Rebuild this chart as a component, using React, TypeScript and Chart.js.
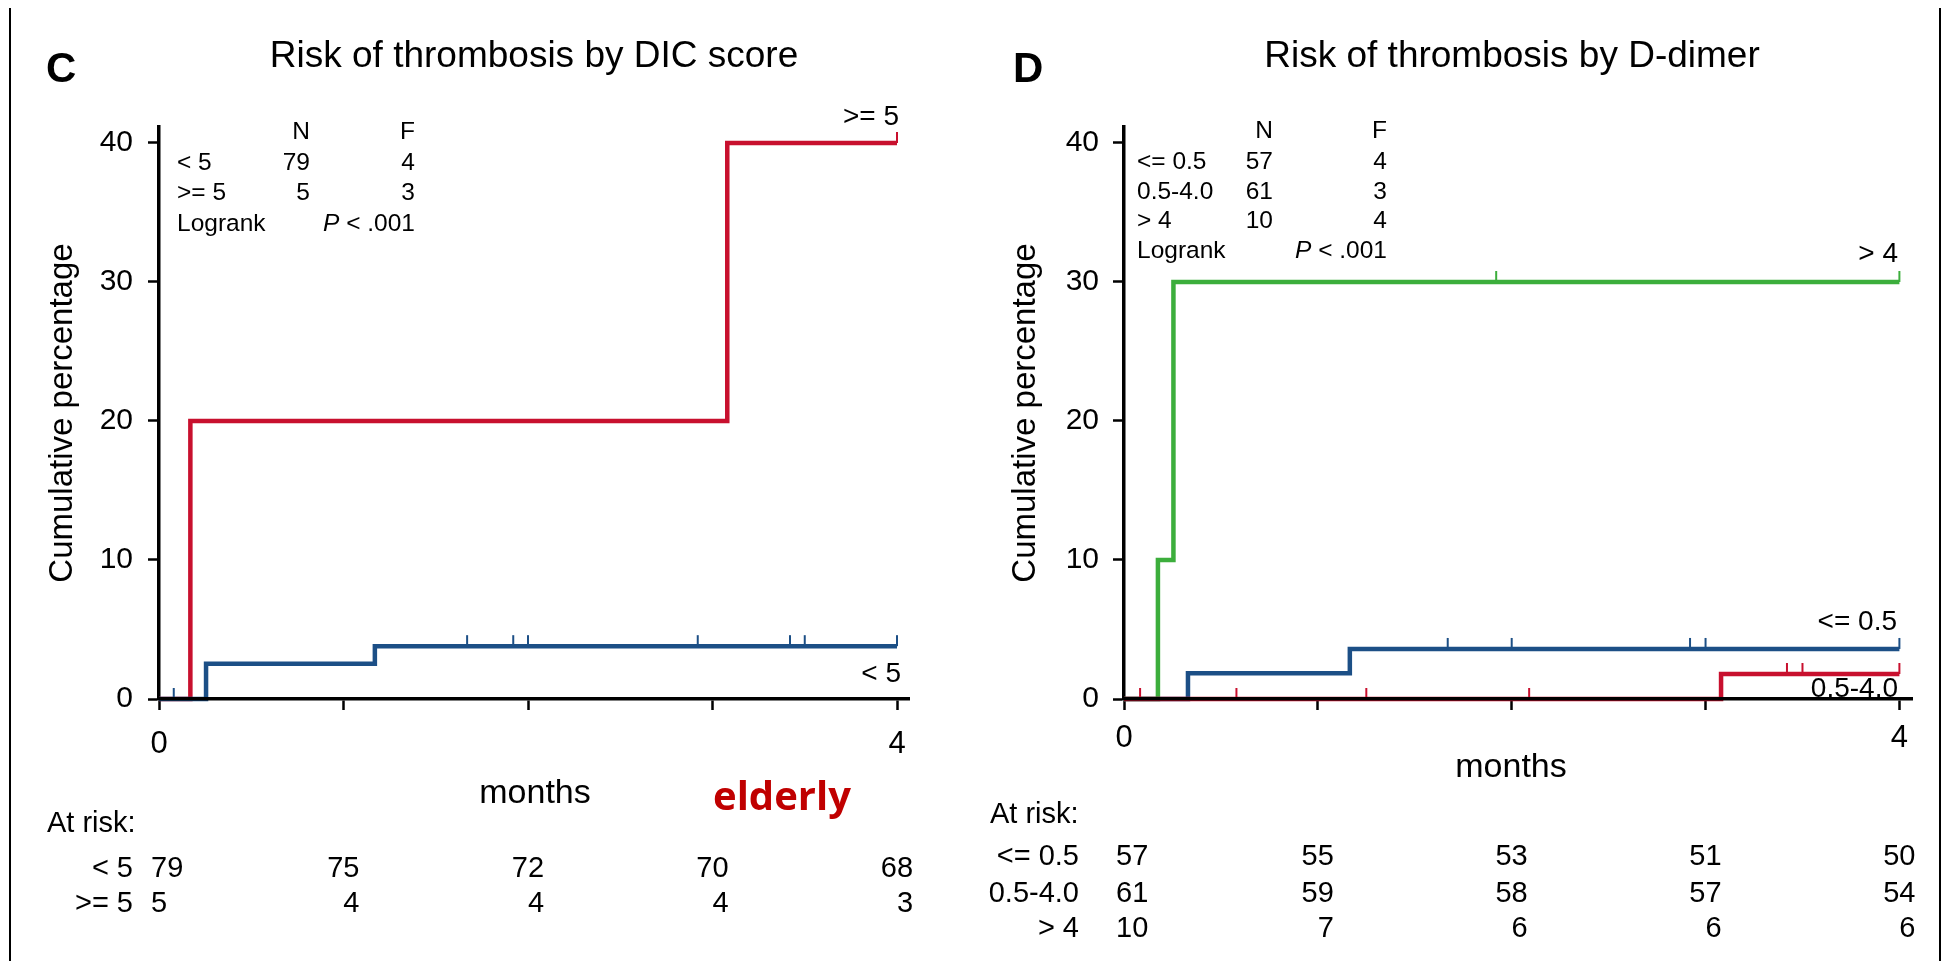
import React, { useEffect, useRef } from 'react';
import { Chart, registerables } from 'chart.js';

Chart.register(...registerables);

const FONT = '"Liberation Sans", Arial, Helvetica, sans-serif';

// ---------- shared axis values ----------
const xTicks = [0, 1, 2, 3, 4];
const xTickLabels = ['0', '', '', '', '4'];
const yTicks = [0, 10, 20, 30, 40];
const riskTimes = [0, 1, 2, 3, 4];

// ---------- Panel C: DIC score ----------
const cLt5X = [0, 0.255, 1.17, 4];
const cLt5Y = [0, 2.53, 3.8, 3.8];
const cLt5Censor = [0.08, 1.67, 1.92, 2.0, 2.92, 3.42, 3.5, 4.0];
const cGe5X = [0, 0.17, 3.08, 4];
const cGe5Y = [0, 20, 40, 40];
const cGe5Censor = [4.0];
const cGroups = ['< 5', '>= 5'];
const cN = ['79', '5'];
const cF = ['4', '3'];
const cRiskLt5 = [79, 75, 72, 70, 68];
const cRiskGe5 = [5, 4, 4, 4, 3];

// ---------- Panel D: D-dimer ----------
const dLe05X = [0, 0.33, 1.165, 4];
const dLe05Y = [0, 1.85, 3.6, 3.6];
const dLe05Censor = [1.67, 2.0, 2.92, 3.0, 4.0];
const dMidX = [0, 3.08, 4];
const dMidY = [0, 1.8, 1.8];
const dMidCensor = [0.083, 0.58, 1.25, 2.09, 3.42, 3.5, 4.0];
const dGt4X = [0, 0.175, 0.255, 4];
const dGt4Y = [0, 10, 30, 30];
const dGt4Censor = [1.92, 4.0];
const dGroups = ['<= 0.5', '0.5-4.0', '> 4'];
const dN = ['57', '61', '10'];
const dF = ['4', '3', '4'];
const dRiskLe05 = [57, 55, 53, 51, 50];
const dRiskMid = [61, 59, 58, 57, 54];
const dRiskGt4 = [10, 7, 6, 6, 6];

const RED = '#c8102e';
const BLUE = '#1c4f86';
const GREEN = '#3cae3c';

const pts = (xs: number[], ys: number[]) => xs.map((x, i) => ({ x, y: ys[i] }));

function stepValue(data: { x: number; y: number }[], x: number) {
  let v = data[0].y;
  for (const p of data) if (p.x <= x + 1e-9) v = p.y;
  return v;
}

const censorPlugin = {
  id: 'censorMarks',
  afterDatasetsDraw(chart: any) {
    const ctx = chart.ctx;
    const xs = chart.scales.x;
    const ys = chart.scales.y;
    chart.data.datasets.forEach((ds: any) => {
      if (!ds.censor) return;
      ctx.save();
      ctx.strokeStyle = ds.borderColor;
      ctx.lineWidth = 2;
      ds.censor.forEach((cx: number) => {
        const v = stepValue(ds.data, cx);
        const px = xs.getPixelForValue(cx);
        const py = ys.getPixelForValue(v);
        ctx.beginPath();
        ctx.moveTo(px, py);
        ctx.lineTo(px, py - 11);
        ctx.stroke();
      });
      ctx.restore();
    });
  },
};

interface PanelCfg {
  offsetX: number;
  letter: string;
  title: string;
  titleCX: number;
  letterX: number;
  padding: { left: number; right: number; top: number; bottom: number };
  xTickPad: number;
  yTickPad: number;
  datasets: any[];
  table: {
    labelX: number;
    nRight: number;
    fRight: number;
    baselines: number[];
    groups: string[];
    n: string[];
    f: string[];
  };
  curveLabels: { text: string; right: number; baseline: number }[];
  ylabelX: number;
  ylabelCY: number;
  monthsCX: number;
  monthsBaseline: number;
  atRiskX: number;
  atRiskBaseline: number;
  riskLabelRight: number;
  riskBaselines: number[];
  riskRows: { label: string; values: number[] }[];
  extra?: { text: string; x: number; baseline: number };
}

function makeAnnotPlugin(p: PanelCfg) {
  return {
    id: 'annot',
    afterDraw(chart: any) {
      const ctx = chart.ctx;
      const X = (px: number) => px - p.offsetX;
      const xs = chart.scales.x;
      ctx.save();
      ctx.fillStyle = '#000';
      ctx.textBaseline = 'alphabetic';

      // panel letter
      ctx.font = `bold 42px ${FONT}`;
      ctx.textAlign = 'left';
      ctx.fillText(p.letter, X(p.letterX), 82);

      // title
      ctx.font = `37px ${FONT}`;
      ctx.textAlign = 'center';
      ctx.fillText(p.title, X(p.titleCX), 67);

      // N / F table
      const t = p.table;
      ctx.font = `24.5px ${FONT}`;
      ctx.textAlign = 'right';
      ctx.fillText('N', X(t.nRight), t.baselines[0]);
      ctx.fillText('F', X(t.fRight), t.baselines[0]);
      t.groups.forEach((g, i) => {
        const b = t.baselines[i + 1];
        ctx.textAlign = 'left';
        ctx.fillText(g, X(t.labelX), b);
        ctx.textAlign = 'right';
        ctx.fillText(t.n[i], X(t.nRight), b);
        ctx.fillText(t.f[i], X(t.fRight), b);
      });
      const lb = t.baselines[t.baselines.length - 1];
      ctx.textAlign = 'left';
      ctx.fillText('Logrank', X(t.labelX), lb);
      const rest = ' < .001';
      const wRest = ctx.measureText(rest).width;
      ctx.font = `italic 24.5px ${FONT}`;
      const wP = ctx.measureText('P').width;
      const start = X(t.fRight) - wRest - wP;
      ctx.fillText('P', start, lb);
      ctx.font = `24.5px ${FONT}`;
      ctx.fillText(rest, start + wP, lb);

      // curve labels
      ctx.font = `28px ${FONT}`;
      ctx.textAlign = 'right';
      p.curveLabels.forEach((c) => ctx.fillText(c.text, X(c.right), c.baseline));

      // y label
      ctx.save();
      ctx.font = `33px ${FONT}`;
      ctx.translate(X(p.ylabelX), p.ylabelCY);
      ctx.rotate(-Math.PI / 2);
      ctx.textAlign = 'center';
      ctx.fillText('Cumulative percentage', 0, 0);
      ctx.restore();

      // x label
      ctx.font = `34px ${FONT}`;
      ctx.textAlign = 'center';
      ctx.fillText('months', X(p.monthsCX), p.monthsBaseline);

      // at risk
      ctx.font = `29px ${FONT}`;
      ctx.textAlign = 'left';
      ctx.fillText('At risk:', X(p.atRiskX), p.atRiskBaseline);
      p.riskRows.forEach((r, i) => {
        const b = p.riskBaselines[i];
        ctx.textAlign = 'right';
        ctx.fillText(r.label, X(p.riskLabelRight), b);
        r.values.forEach((v, j) => {
          const px = xs.getPixelForValue(riskTimes[j]);
          if (j === 0) {
            ctx.textAlign = 'left';
            ctx.fillText(String(v), px - 8, b);
          } else {
            ctx.textAlign = 'right';
            ctx.fillText(String(v), px + 16, b);
          }
        });
      });

      if (p.extra) {
        ctx.font = `bold 40px "Open Sans", ${FONT}`;
        ctx.fillStyle = '#c00000';
        ctx.textAlign = 'left';
        ctx.fillText(p.extra.text, X(p.extra.x), p.extra.baseline);
      }
      ctx.restore();
    },
  };
}

function lineDs(label: string, xs: number[], ys: number[], censor: number[], color: string) {
  return {
    label,
    data: pts(xs, ys),
    censor,
    borderColor: color,
    backgroundColor: color,
    borderWidth: 4.5,
    pointRadius: 0,
    stepped: true,
    fill: false,
    clip: false,
    borderCapStyle: 'butt',
    borderJoinStyle: 'miter',
  };
}

const panelC: PanelCfg = {
  offsetX: 0,
  letter: 'C',
  title: 'Risk of thrombosis by DIC score',
  titleCX: 534,
  letterX: 46,
  padding: { left: 59, right: 64, top: 127, bottom: 172 },
  xTickPad: 16,
  yTickPad: 15,
  datasets: [
    lineDs('< 5', cLt5X, cLt5Y, cLt5Censor, BLUE),
    lineDs('>= 5', cGe5X, cGe5Y, cGe5Censor, RED),
  ],
  table: {
    labelX: 177,
    nRight: 310,
    fRight: 415,
    baselines: [139, 170, 200, 231],
    groups: cGroups,
    n: cN,
    f: cF,
  },
  curveLabels: [
    { text: '>= 5', right: 899, baseline: 125 },
    { text: '< 5', right: 901, baseline: 682 },
  ],
  ylabelX: 72,
  ylabelCY: 413,
  monthsCX: 535,
  monthsBaseline: 803,
  atRiskX: 47,
  atRiskBaseline: 832,
  riskLabelRight: 133,
  riskBaselines: [877, 912],
  riskRows: [
    { label: cGroups[0], values: cRiskLt5 },
    { label: cGroups[1], values: cRiskGe5 },
  ],
  extra: { text: 'elderly', x: 713, baseline: 810 },
};

const panelD: PanelCfg = {
  offsetX: 973,
  letter: 'D',
  title: 'Risk of thrombosis by D-dimer',
  titleCX: 1512,
  letterX: 1013,
  padding: { left: 51, right: 34, top: 127, bottom: 172 },
  xTickPad: 10,
  yTickPad: 14,
  datasets: [
    lineDs('0.5-4.0', dMidX, dMidY, dMidCensor, RED),
    lineDs('<= 0.5', dLe05X, dLe05Y, dLe05Censor, BLUE),
    lineDs('> 4', dGt4X, dGt4Y, dGt4Censor, GREEN),
  ],
  table: {
    labelX: 1137,
    nRight: 1273,
    fRight: 1387,
    baselines: [138, 169, 199, 228, 258],
    groups: dGroups,
    n: dN,
    f: dF,
  },
  curveLabels: [
    { text: '> 4', right: 1898, baseline: 262 },
    { text: '<= 0.5', right: 1897, baseline: 630 },
    { text: '0.5-4.0', right: 1898, baseline: 697 },
  ],
  ylabelX: 1035,
  ylabelCY: 413,
  monthsCX: 1511,
  monthsBaseline: 777,
  atRiskX: 990,
  atRiskBaseline: 823,
  riskLabelRight: 1079,
  riskBaselines: [865, 902, 937],
  riskRows: [
    { label: dGroups[0], values: dRiskLe05 },
    { label: dGroups[1], values: dRiskMid },
    { label: dGroups[2], values: dRiskGt4 },
  ],
};

function Panel({ cfg }: { cfg: PanelCfg }) {
  const ref = useRef<HTMLCanvasElement | null>(null);
  useEffect(() => {
    if (!ref.current) return;
    const chart = new Chart(ref.current, {
      type: 'line',
      data: { datasets: cfg.datasets },
      options: {
        animation: false,
        responsive: false,
        maintainAspectRatio: false,
        devicePixelRatio: 1,
        layout: { padding: cfg.padding, autoPadding: false } as any,
        plugins: {
          legend: { display: false },
          tooltip: { enabled: false },
          title: { display: false },
        },
        scales: {
          x: {
            type: 'linear',
            min: 0,
            max: 4.065,
            afterFit: (s: any) => {
              s.height = 90;
            },
            afterBuildTicks: (s: any) => {
              s.ticks = xTicks.map((v) => ({ value: v }));
            },
            grid: {
              display: true,
              drawOnChartArea: false,
              drawTicks: true,
              tickLength: 11,
              tickWidth: 2.5,
              tickColor: '#000',
              color: '#000',
            },
            border: { display: true, color: '#000', width: 3.5, z: 1 },
            ticks: {
              autoSkip: false,
              maxRotation: 0,
              padding: cfg.xTickPad,
              color: '#000',
              font: { size: 31, family: FONT },
              callback: (v: any) => {
                const i = xTicks.indexOf(Number(v));
                return i >= 0 ? xTickLabels[i] : '';
              },
            },
          },
          y: {
            type: 'linear',
            min: 0,
            max: 41.15,
            afterFit: (s: any) => {
              s.width = 100;
            },
            afterBuildTicks: (s: any) => {
              s.ticks = yTicks.map((v) => ({ value: v }));
            },
            grid: {
              display: true,
              drawOnChartArea: false,
              drawTicks: true,
              tickLength: 11,
              tickWidth: 2.5,
              tickColor: '#000',
              color: '#000',
            },
            border: { display: true, color: '#000', width: 3.5 },
            ticks: {
              padding: cfg.yTickPad,
              color: '#000',
              font: { size: 30, family: FONT },
              callback: (v: any) => String(v),
            },
          },
        },
      } as any,
      plugins: [censorPlugin, makeAnnotPlugin(cfg)] as any,
    });
    return () => chart.destroy();
  }, [cfg]);
  return (
    <canvas
      ref={ref}
      width={973}
      height={961}
      style={{ position: 'absolute', left: cfg.offsetX, top: 0, width: 973, height: 961 }}
    />
  );
}

export default function App() {
  return (
    <div
      style={{
        position: 'fixed',
        left: 0,
        top: 0,
        width: 1946,
        height: 961,
        background: '#fff',
        overflow: 'hidden',
      }}
    >
      <Panel cfg={panelC} />
      <Panel cfg={panelD} />
      <div style={{ position: 'absolute', left: 9, top: 8, width: 2, height: 953, background: '#000' }} />
      <div style={{ position: 'absolute', left: 1939, top: 8, width: 2, height: 953, background: '#000' }} />
    </div>
  );
}
